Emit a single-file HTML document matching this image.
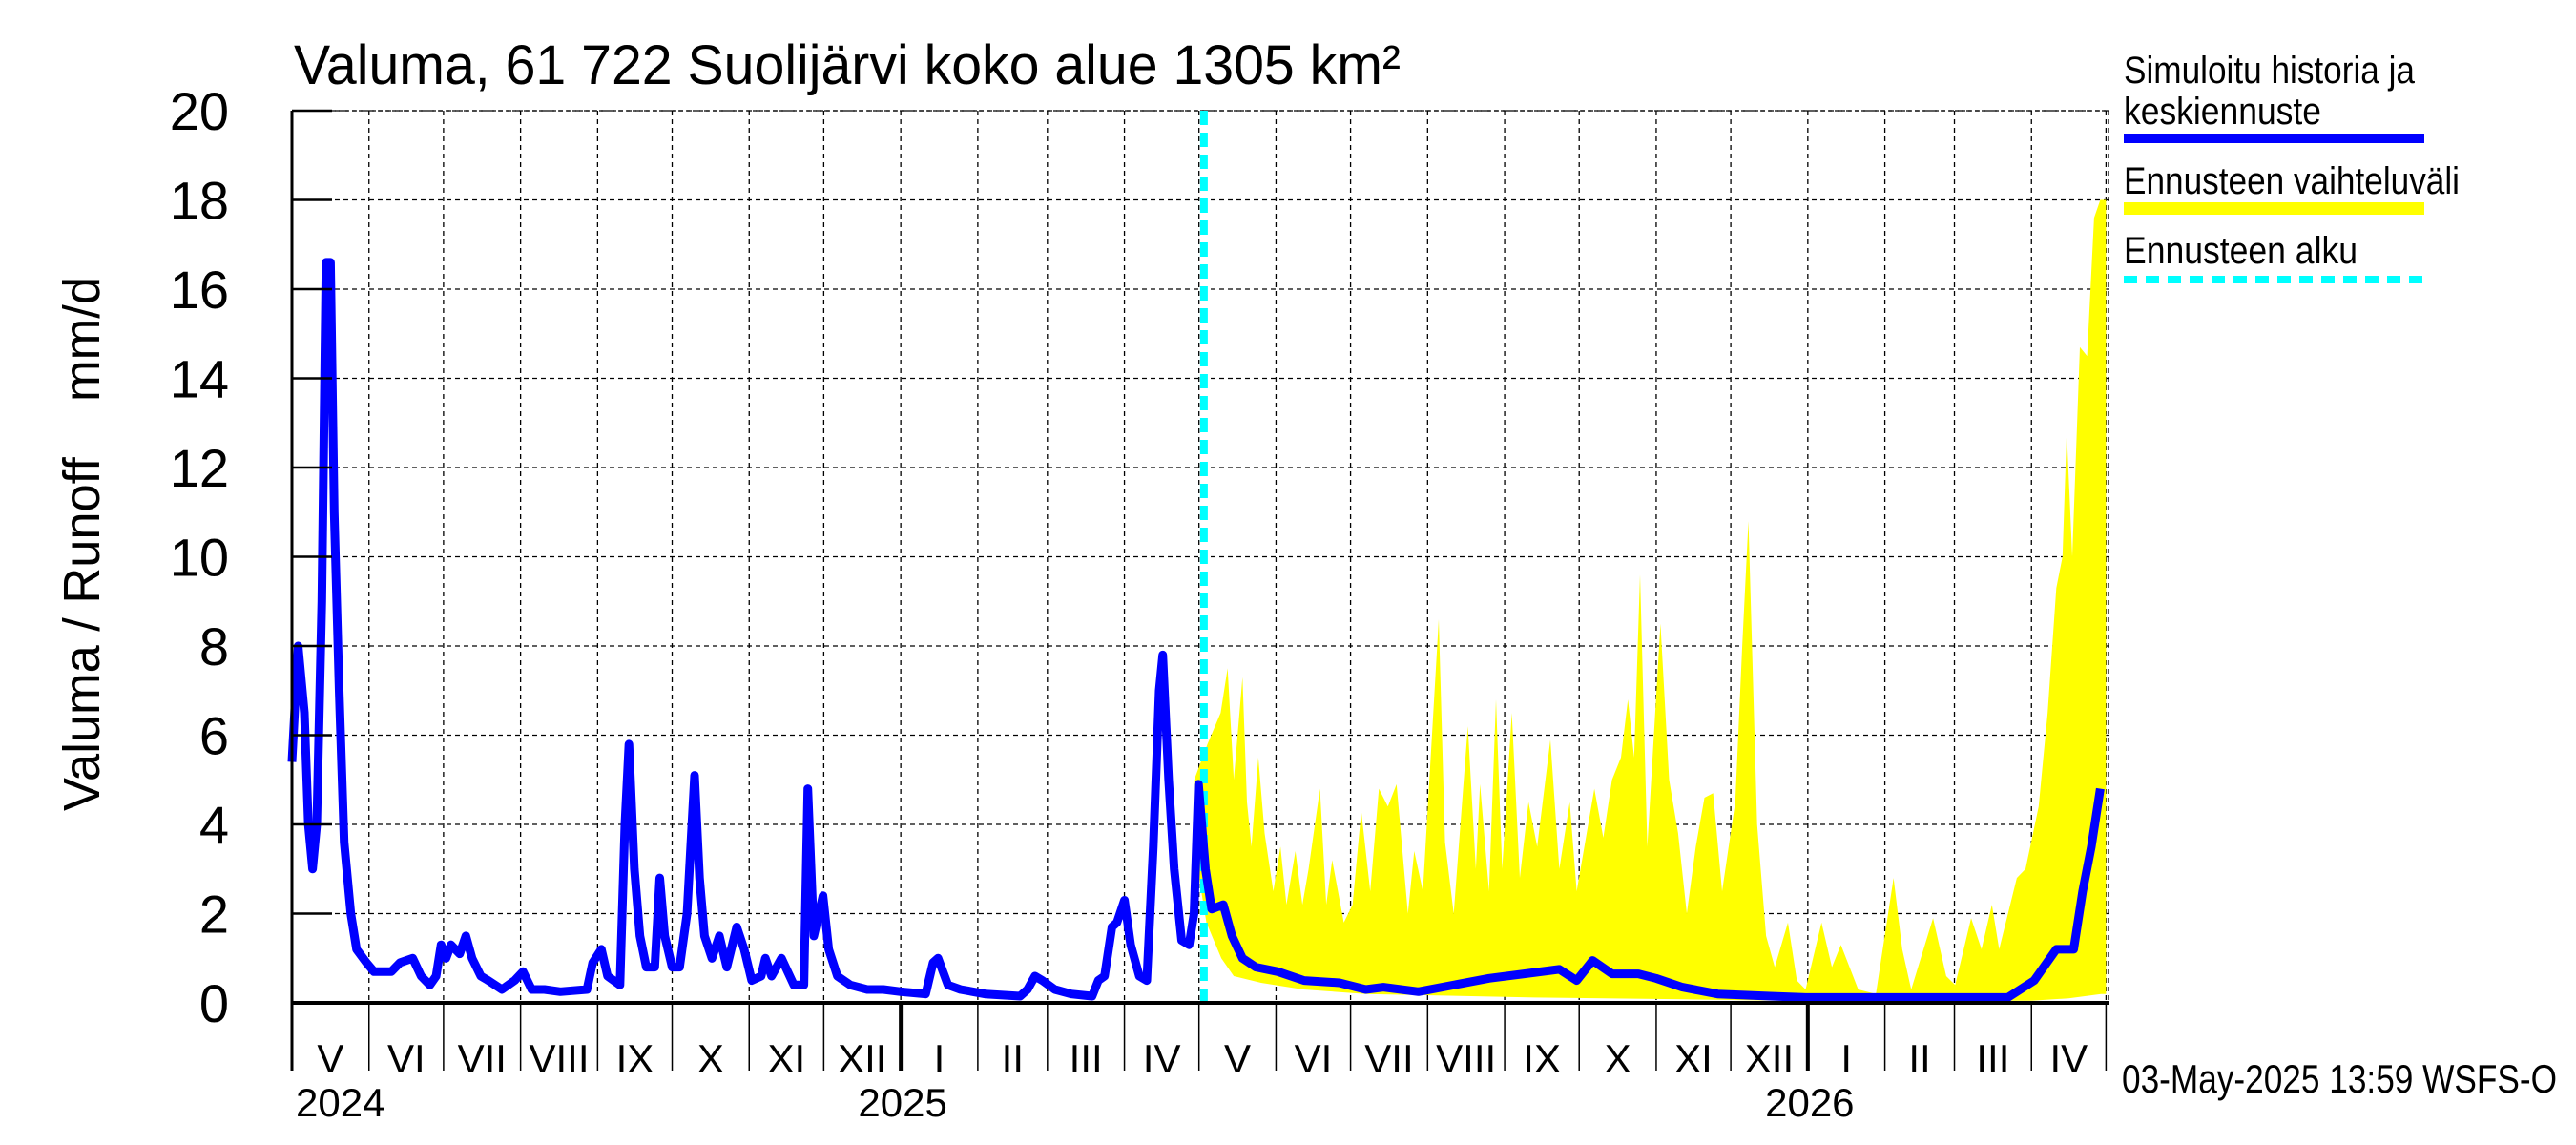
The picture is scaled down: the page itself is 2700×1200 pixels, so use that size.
<!DOCTYPE html>
<html><head><meta charset="utf-8"><style>
html,body{margin:0;padding:0;background:#fff}
svg{display:block;font-family:"Liberation Sans",sans-serif}
</style></head><body>
<svg id="chart" width="2700" height="1200" viewBox="0 0 2700 1200" xmlns="http://www.w3.org/2000/svg">
<text x="308" y="88" font-size="58" textLength="1160" lengthAdjust="spacingAndGlyphs">Valuma, 61 722 Suolijärvi koko alue 1305 km²</text>
<text transform="translate(104,570) rotate(-90)" text-anchor="middle" font-size="54" textLength="560" lengthAdjust="spacingAndGlyphs">Valuma / Runoff &#160;&#160;&#160;mm/d</text>
<g id="grid"></g>
<g id="marks"></g>
<g id="axes"></g>
<g>
<text x="2226" y="87" font-size="40" textLength="305" lengthAdjust="spacingAndGlyphs">Simuloitu historia ja</text>
<text x="2226" y="130" font-size="40" textLength="207" lengthAdjust="spacingAndGlyphs">keskiennuste</text>
<rect x="2226" y="140" width="315" height="10" fill="#0000ff"/>
<text x="2226" y="203" font-size="40" textLength="352" lengthAdjust="spacingAndGlyphs">Ennusteen vaihteluväli</text>
<rect x="2226" y="212" width="315" height="13" fill="#ffff00"/>
<text x="2226" y="276" font-size="40" textLength="245" lengthAdjust="spacingAndGlyphs">Ennusteen alku</text>
<line x1="2226" y1="293" x2="2541" y2="293" stroke="#00ffff" stroke-width="8" stroke-dasharray="14 9"/>
</g>
<text x="2224" y="1145" font-size="42" textLength="456" lengthAdjust="spacingAndGlyphs">03-May-2025 13:59 WSFS-O</text>
</svg>
<script>
// days since 2024-05-01
const histDays=[0,2.5,5,6.6,8.3,10,12,13.7,15.5,17,19,21,23.7,26,30,33,40,43.5,48.6,52,55.5,58,60,62,64,67.5,70,72.5,76,79,84.5,89.6,93,96.5,101.6,108,118.7,121,124.5,127,132,134,135.6,137.8,140,142.6,146,148,150,153,156,159,162,164,166,169,172,175,179,182,185,188.8,190.5,193,197,202,206,207.6,210,213.7,216,219.5,224.7,231.5,238,245,255,258,260,264,269,279,293,296,299,302,307,313.6,322,324.5,327,330,332,335,337.5,341,344,346.6,349,350.4,352.8,355,358,361,363,364.8,367.6,370.1,374.8,378.3,382.5,387.9,396.7,407.3,421.5,432.1,439.2,453.3,467.5,481.7,495.8,510,517,523.4,531.2,541.8,548.9,559.5,573.7,594.9,609.1,690.5,701.1,710,717,720.6,724.1,727.7];
const histVals=[5.4,8.0,6.5,4,3.0,4,9,16.6,16.6,11,7,3.6,2,1.2,0.9,0.7,0.7,0.9,1.0,0.6,0.4,0.6,1.3,1.0,1.3,1.1,1.5,1.0,0.6,0.5,0.3,0.5,0.7,0.3,0.3,0.25,0.3,0.9,1.2,0.6,0.4,4,5.8,3.0,1.5,0.8,0.8,2.8,1.5,0.8,0.8,2.0,5.1,2.8,1.5,1.0,1.5,0.8,1.7,1.2,0.5,0.6,1.0,0.6,1.0,0.4,0.4,4.8,1.5,2.4,1.2,0.6,0.4,0.3,0.3,0.25,0.2,0.9,1.0,0.4,0.3,0.2,0.15,0.3,0.6,0.5,0.3,0.2,0.15,0.5,0.6,1.7,1.8,2.3,1.3,0.6,0.5,3.5,7.0,7.8,5.0,3.0,1.4,1.3,2.0,4.9,3.0,2.1,2.2,1.5,1.0,0.8,0.7,0.5,0.45,0.3,0.35,0.25,0.4,0.55,0.65,0.75,0.5,0.95,0.65,0.65,0.55,0.35,0.2,0.15,0.12,0.12,0.5,1.2,1.2,2.5,3.5,4.8];
const upperDays=[362,363.1,368.4,373.7,376.5,379,382.5,384.3,386.1,388.9,391.4,394.9,397.8,400.2,403.8,406.6,409.1,413.7,416.2,418.6,423.3,426.8,430.3,433.9,437.4,441,444.5,449.1,451.6,455.1,461.5,464,467.5,473.2,476.4,478.1,481.7,484.5,487,490.9,494.1,497.6,501.1,506.4,510,514.2,517,524.1,527.7,531.2,534.8,537.6,540.1,542.5,545.4,550.7,554.2,557.8,561.3,564.9,568.4,571.9,575.5,580.8,583.6,586.1,589.6,593.2,596.7,602,605.6,609.1,615.5,619.7,623.3,630.3,637.4,644.5,648,651.6,660.4,665.7,669.3,675.7,679.9,684.1,687,694.1,697.6,702.9,706.5,710,712.5,714.2,716.4,719.5,722.4,725.2,727.7,730];
const upperVals=[1.3,5,5.8,6.5,7.5,5,7.3,4.5,3.5,5.5,3.8,2.5,3.5,2.2,3.4,2.2,3.0,4.8,2.2,3.2,1.8,2.2,4.3,2.5,4.8,4.4,4.9,2.0,3.4,2.5,8.6,3.6,2.0,6.2,3.0,4.9,2.5,6.8,3.0,6.5,2.8,4.5,3.5,5.9,3.0,4.5,2.5,4.8,3.7,5,5.5,6.8,5.5,9.6,3.5,8.5,5.0,3.8,2.0,3.5,4.6,4.7,2.5,4.5,8,10.8,4,1.5,0.8,1.8,0.5,0.3,1.8,0.8,1.3,0.3,0.2,2.8,1.2,0.3,1.9,0.6,0.4,1.9,1.2,2.2,1.2,2.8,3.0,4.4,6.5,9.3,10,12.8,10,14.7,14.5,17.6,18,18];
const lowerDays=[362,363,368,374,379,390,407,432,500,560,600,700,715,728,730];
const lowerVals=[1.3,3.5,1.8,1.0,0.6,0.45,0.3,0.2,0.12,0.08,0.05,0.05,0.1,0.2,0.2];
const yTicks=[0,2,4,6,8,10,12,14,16,18,20];
const monthLabels=["I","II","III","IV","V","VI","VII","VIII","IX","X","XI","XII"];
const forecastStartDay=367;
const totalDays=731;

const NS="http://www.w3.org/2000/svg";
const X0=306,X1=2210,Y0=1051,Y1=116;
const xs=d=>X0+d*(X1-X0)/totalDays;
const ys=v=>Y0-v*(Y0-Y1)/20;
function mk(parent,tag,attrs){const e=document.createElementNS(NS,tag);for(const k in attrs)e.setAttribute(k,attrs[k]);document.getElementById(parent).appendChild(e);return e;}
const base=Date.UTC(2024,4,1);
const dayOf=(y,m)=>(Date.UTC(y,m,1)-base)/86400000;

yTicks.forEach(v=>{
  if(v>0){const g=mk('grid','line',{x1:X0,x2:X1,y1:ys(v),y2:ys(v),stroke:'#000','stroke-width':1.3,'stroke-dasharray':'5 4'});
  
  }
  const t=mk('axes','line',{x1:X0,x2:X0+42,y1:ys(v),y2:ys(v),stroke:'#000','stroke-width':2.5});
  
  
  const l=mk('axes','text',{x:240,y:ys(v)+20,'text-anchor':'end','font-size':56});
  l.textContent=v;
  
  
});
for(let i=0;i<=24;i++){
  const y=2024+Math.floor((4+i)/12), m=(4+i)%12;
  const d=dayOf(y,m); if(d>totalDays+1)break;
  const x=xs(Math.min(d,totalDays));
  if(i>0){const g=mk('grid','line',{x1:x,x2:x,y1:Y1,y2:Y0,stroke:'#000','stroke-width':1.3,'stroke-dasharray':'5 4'});
  
  }
  const tk=mk('axes','line',{x1:x,x2:x,y1:Y0,y2:1122,stroke:'#000','stroke-width':m===0?4:1.5});
  
  
  if(i<24){
    const dn=dayOf(m===11?y+1:y,(m+1)%12);
    const lab=mk('axes','text',{x:(x+xs(Math.min(dn,totalDays)))/2,y:1124,'text-anchor':'middle','font-size':42});
    lab.textContent=monthLabels[m];
    
    
  }
}
[["2024",0],["2025",dayOf(2025,0)],["2026",dayOf(2026,0)]].forEach(([t,d])=>{
  const e=mk('axes','text',{x:xs(d)+(d===0?4:2),y:1170,'font-size':42,'text-anchor':d===0?'start':'middle'});
  e.textContent=t;
  
  
});
const tb=mk('grid','line',{x1:X0,x2:X1,y1:Y1,y2:Y1,stroke:'#000','stroke-width':1.3,'stroke-dasharray':'4 3'});


const rb=mk('grid','line',{x1:X1,x2:X1,y1:Y1,y2:Y0,stroke:'#000','stroke-width':1.3,'stroke-dasharray':'5 4'});


let p=upperDays.map((d,i)=>(i?'L':'M')+xs(d).toFixed(1)+','+ys(upperVals[i]).toFixed(1)).join('');
for(let i=lowerDays.length-1;i>=0;i--)p+='L'+xs(lowerDays[i]).toFixed(1)+','+ys(lowerVals[i]).toFixed(1);
const band=mk('marks','path',{d:p+'Z',fill:'#ffff00'});


const fs=mk('marks','line',{x1:xs(forecastStartDay),x2:xs(forecastStartDay),y1:Y1,y2:Y0,stroke:'#00ffff','stroke-width':8,'stroke-dasharray':'15 8'});


const sp=histDays.map((d,i)=>(i?'L':'M')+xs(d).toFixed(1)+','+ys(histVals[i]).toFixed(1)).join('');
const s=mk('marks','path',{d:sp,fill:'none',stroke:'#0000ff','stroke-width':9,'stroke-linejoin':'round'});


const la=mk('axes','line',{x1:X0,x2:X0,y1:Y1,y2:1122,stroke:'#000','stroke-width':3});


const ba=mk('axes','line',{x1:X0,x2:X1,y1:Y0,y2:Y0,stroke:'#000','stroke-width':4});


</script>
</body></html>
